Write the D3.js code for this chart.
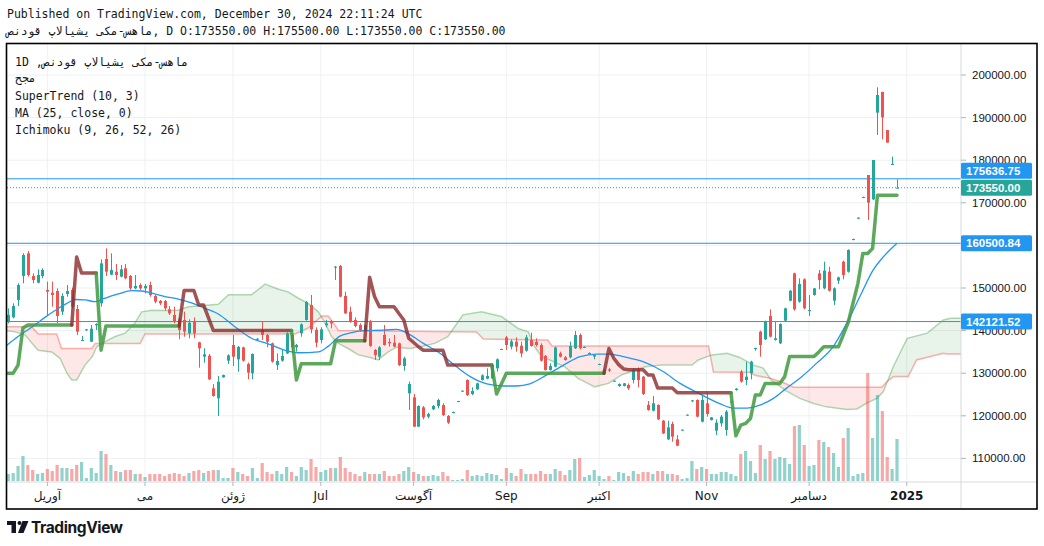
<!DOCTYPE html>
<html><head><meta charset="utf-8">
<script src="https://cdn.jsdelivr.net/npm/d3@7"></script>
<style>
body{margin:0;background:#fff;}
svg{display:block;}
</style></head><body>
<svg id="c" width="1044" height="546"></svg>
<script>
// ---------- DATA ----------
const opens = [142000,143110,147180,152820,158140,152820,151250,152820,149530,148910,
149300,144440,148590,149530,145070,137640,140060,137400,141240,146400,
156810,153130,153830,152660,154620,152820,149920,150700,149920,150700,
148120,146950,146950,144990,143660,142640,142490,139360,142250,137250,
133880,134120,126450,124100,129030,132940,136620,133250,136070,132160,
129970,137950,140140,138970,137010,131920,132940,134660,138970,136070,
139360,142490,146010,140140,137790,141240,142250,154850,155170,148120,
144440,142490,141310,140140,142000,135450,133880,138970,137320,137170,
137010,131690,125270,124330,117450,121990,119800,121520,122300,122530,
119950,120740,123320,125740,128400,125120,126210,128400,128720,128790,
131140,135520,138420,136230,137400,136460,135290,137790,137400,136620,
134040,130750,131530,134660,133720,133720,135840,138970,136000,134590,
133900,132000,130590,130900,128100,127000,127000,127230,128400,130750,
129190,122540,121200,122540,118860,114470,118070,114470,116590,120110,
123400,123710,118620,122930,119010,116510,118230,116660,123240,126050,
130360,128400,129970,135760,139750,137950,143430,137790,137010,142330,
147020,153440,146790,152030,144680,148360,153440,149920,153830,147020,
151720,156180,153830,161340,166350,171200,176530,170810,191160,196010,
187090,179030,173550];
const highs = [145200,146400,151100,158140,158690,153440,154380,154620,151490,151490,
149920,148750,150700,150080,146010,138730,140400,141310,141710,156730,
159310,158140,155630,155400,155630,153050,153050,151100,150940,151490,
148400,147180,147180,145780,145620,143110,144440,142640,143110,137400,
135840,134510,127460,129340,129660,134430,138970,136380,136230,132470,
134660,138200,142100,139200,137170,134660,135450,139590,139360,136850,
141710,146950,148360,140770,140770,142490,142490,155170,155400,149140,
145620,143110,141710,141470,142500,135680,136380,141310,138180,138970,
137170,133880,128010,125120,122460,122300,120740,122530,124020,122930,
120190,121000,123500,125950,128560,126680,127780,129730,131140,132320,
133490,135750,138730,137950,138420,137400,138970,139510,138180,137010,
134270,132320,136230,135060,134040,137400,139910,139360,136300,134900,
134300,132250,130900,131200,128300,127600,127700,127600,131140,131380,
129340,123470,124650,122700,119010,118860,118620,115490,116800,120300,
123700,123870,124650,125430,119700,119170,120190,121360,123500,126500,
130750,132710,132940,136000,139980,142330,144990,142090,141700,145380,
149500,153600,152270,152270,148360,150000,154220,156180,155010,150160,
152660,156420,159080,161600,166600,171450,176530,180050,197110,196090,
187090,180830,175500];
const lows = [141700,142880,145780,151100,152660,151100,151100,152270,143430,145620,
141700,143660,147970,145230,138970,137560,139950,137320,140140,145620,
152820,153050,151880,152500,152040,149530,149690,149530,148750,147970,
146400,146010,144680,143660,141700,137950,138580,138180,138180,131300,
132470,128400,124490,119950,128950,132160,131690,130360,132710,128560,
128560,137800,137790,136070,132470,130750,132710,134510,134820,135060,
138580,142330,139360,136070,137010,140770,140530,151880,147810,143900,
141860,140770,139750,139980,136200,133100,133100,136460,136230,136070,
131690,130590,121360,117450,117450,119170,119410,121360,121750,119950,
118070,120600,123200,125650,124650,124880,126060,128250,128560,128640,
130360,135450,135450,135600,135060,133720,135060,136230,136230,132710,
130590,130600,131380,133720,132940,133490,135680,135600,135900,134500,
133250,131900,129580,130300,128000,126800,126900,126050,127620,126680,
124880,121200,121050,119010,115730,114320,113930,112910,116500,120000,
123200,119640,118470,119800,118900,115490,117450,115340,123100,125900,
127770,127230,128560,135290,133880,137790,138420,137630,136850,142090,
146870,144680,146550,144990,143430,148200,149690,149690,149140,146010,
150940,152030,153600,161200,166200,171100,165960,170660,185920,184900,
184120,179030,173550];
const closes = [143700,145780,150700,157750,153050,151880,153050,154230,149140,148360,
143430,148120,149300,145620,139750,137790,140300,140450,141550,155790,
153830,154230,153050,154380,152270,149920,150470,149920,150470,148360,
146790,146400,145230,144050,142100,140140,139750,141860,139360,135840,
134430,128560,124650,128010,129580,134190,133880,136150,132940,130120,
134510,138110,138970,137400,132710,132860,134040,139360,136070,136620,
141470,146710,140300,137170,140300,141710,141710,155010,147970,144050,
142100,141080,140140,141240,136400,134270,136070,136620,137010,136230,
131920,133490,127460,117450,122300,119640,120420,122300,123710,120190,
118390,120890,123470,125900,124880,125820,127620,129500,129340,131920,
133250,135680,136620,137480,136230,134660,138420,136380,136620,132940,
130750,131690,136070,133880,133100,136380,138970,135840,136150,134740,
134250,132160,130750,130600,128250,127460,127620,126450,130750,128400,
125120,121360,122930,119170,115880,117290,115100,112990,116740,120270,
123630,119800,123710,120420,119640,118390,119800,120970,123390,126370,
128010,129180,132710,135910,136620,142090,138570,138180,141550,145230,
149370,144990,150940,145230,144830,149920,151880,154070,149370,149920,
152500,153050,158920,161500,166510,171360,170030,180050,195310,190060,
184120,179110,173550];
const volumes = [7,8,15,25,16,11,7,8,12,10,16,13,13,12,16,19,3,13,8,30,
27,16,10,9,11,11,7,7,4,7,7,7,5,7,8,7,5,
8,10,11,8,10,11,11,3,3,13,9,7,5,13,3,18,9,7,10,7,14,9,5,14,11,22,14,9,11,13,13,24,13,9,7,5,9,
7,7,7,10,5,5,7,10,14,9,7,5,5,6,5,9,5,1,1,2,11,5,6,5,8,7,6,2,13,8,5,12,7,7,7,10,7,
7,12,10,6,11,22,23,4,6,11,5,2,5,1,9,8,5,10,7,9,9,7,10,10,7,7,6,2,3,20,
12,14,12,7,7,9,9,7,5,27,30,20,8,36,22,30,22,24,23,17,55,56,36,15,16,41,39,34,28,14,
43,53,5,7,8,108,43,86,70,24,12,42];

// Moving average (25): [bar index, value]
const maPoints = [[-0.7,136200],[2.0,138600],[4.8,140800],[7.5,143100],[10.2,145200],[12.0,146400],[13.7,147300],
[15.7,147200],[17.8,146800],[19.8,147600],[22.5,148600],[25.3,149400],[27.3,149300],[29.4,148800],[32.1,148000],
[34.8,147400],[37.2,146600],[40.3,145200],[43.0,143900],[46.4,140900],[49.8,138200],[53.2,136900],[56.6,135400],
[59.4,134800],[63.5,135000],[65.5,136300],[67.9,138700],[70.3,139500],[72.7,140000],[76.8,140100],[79.5,140300],
[82.3,139000],[85.0,137000],[88.4,134700],[91.8,131500],[94.6,129200],[98.0,127500],[101.4,127000],[104.1,127000],
[106.8,127500],[110.3,129600],[113.7,131900],[117.1,133900],[120.5,134500],[123.2,134500],[125.9,133900],
[130.0,132700],[134.1,130400],[137.6,127600],[141.7,125100],[145.8,122800],[148.5,121800],[151.2,121800],
[153.9,122500],[156.7,124100],[159.4,126500],[162.1,128800],[165.5,132300],[168.9,136200],[171.7,141700],
[174.4,148000],[177.1,154200],[179.2,157300],[182,160500.84]];

// SuperTrend (10,3): [bar index, value, direction 1=up/-1=down]
const stPoints = [[-0.3,130000,1],[1,130000,1],[2,131900,1],[3,140600,1],[4,141300,1],[13,141300,1],
[14,157300,-1],[15,153500,-1],[18,153500,-1],
[19,135400,1],[20,141100,1],[35,141100,1],
[36,149400,-1],[38,149400,-1],[39,146000,-1],[40,146000,-1],[41,143000,-1],[42,140000,-1],[58,140000,-1],
[59,128400,1],[60,132200,1],[66,132200,1],[67,137600,1],[73,137600,1],
[74,152500,-1],[75,148000,-1],[76,145600,-1],[79,145600,-1],[80,144000,-1],[81,142500,-1],[82,138200,-1],
[84,136200,-1],[85,135400,-1],[89,135400,-1],[90,131900,-1],[99,131900,-1],
[100,125100,1],[101,127500,1],[102,130000,1],[122,130000,1],
[123,135800,-1],[124,133500,-1],[125,132000,-1],[126,131000,-1],[127,130800,-1],[130,130800,-1],[131,129600,-1],
[132,129600,-1],[133,126500,-1],[136,126500,-1],[137,125400,-1],[148,125400,-1],
[149,115300,1],[150,117800,1],[151,118200,1],[152,119400,1],[153,124900,1],[154,124900,1],[155,127600,1],
[158,127600,1],[159,129200,1],[160,133900,1],[165,133900,1],[166,135000,1],[167,136200,1],[170,136200,1],
[171,139000,1],[172,141900,1],[173,146500,1],[174,151100,1],[175,158100,1],[176,158100,1],[177,159300,1],
[178,171800,1],[182,171800,1]];

// Ichimoku leading spans (shifted 26 bars): [bar index, value]
const spanA = [[-0.7,140000],[1.4,139700],[3.4,139000],[6.1,135400],[8.9,135000],[10.6,133500],[12.0,130000],
[13.0,128400],[14.0,128400],[15.7,131900],[17.2,133900],[18.1,136200],[19.8,137400],[21.9,138600],[23.9,139400],
[25.9,141700],[27.3,144400],[29.4,144800],[32.1,144700],[34.8,144800],[36.9,145600],[38.9,145800],[43.0,146200],
[45.1,148400],[49.8,148400],[52.6,150900],[55.3,149700],[57.3,149100],[59.4,147600],[61.4,146400],[63.5,144400],
[64.9,141700],[66.2,138600],[67.6,137000],[69.6,135800],[71.7,134300],[74.1,133700],[75.7,133100],[77.8,135000],
[79.5,136100],[82.3,135800],[85.0,136400],[87.3,137000],[90.0,138600],[91.4,140900],[93.1,143700],[96.9,144400],
[101.0,143300],[104.4,140500],[106.5,139700],[107.8,136200],[109.2,133900],[110.9,133100],[114.0,131500],
[116.7,128800],[120.1,126800],[122.9,127600],[125.6,129600],[130.4,131500],[133.8,131900],[140.0,131900],
[141.3,133100],[144.1,134300],[147.2,134700],[149.8,133700],[152.6,131900],[154.6,131200],[156.2,128400],
[159.4,125800],[162.1,124100],[164.9,122900],[167.6,122100],[171.7,121500],[173.8,121600],[175.8,123000],
[177.9,124100],[179.2,125700],[181.3,131700],[184.1,138200],[186.8,139000],[188.2,139400],[191.5,142500],
[192.9,142900],[196.0,142900]];
const spanB = [[-0.7,140900],[4.8,140900],[6.1,139200],[9.9,139200],[10.9,135800],[17.1,135800],[17.8,137000],
[27.0,137000],[28.0,139200],[58.7,139200],[61.4,140600],[62.8,142000],[64.2,143400],[65.5,143400],[66.9,141300],
[67.6,140000],[95.9,139700],[97.3,138000],[110.5,137800],[111.3,136400],[143.4,136400],[144.4,130300],
[151.9,130200],[152.9,129500],[156.0,128800],[158.7,127800],[160.8,126700],[178.9,126700],[179.9,128000],
[181.3,129200],[184.3,129200],[186.0,133100],[191.5,134700],[192.2,134500],[196.0,134500]];

const priceTicks = [200000,190000,180000,170000,160000,150000,140000,130000,120000,110000];
const monthIdx = [8,28,46,64,83,102,121,143,164,184];
const monthLbl = ["آوریل","می","ژوئن","Jul","آگوست","Sep","اکتبر","Nov","دسامبر","2025"];
const priceLines = [175636.75, 160500.84, 142121.52];
const lastPrice = 173550.00;
const tickerName = "ماهس-مکی یشیالاپ قودنص";
const ohlcText = ", D O:173550.00 H:175500.00 L:173550.00 C:173550.00";
const legendRows = ["مجح","SuperTrend (10, 3)","MA (25, close, 0)","Ichimoku (9, 26, 52, 26)"];

// ---------- DRAW ----------
const GREEN="#26a69a", RED="#ef5350", BLUE="#2196f3", TXT="#131722";
const P = {l:7, r:961, t:44, b:482};
const svg = d3.select('#c');
const x = d3.scaleLinear().domain([0,182]).range([8.3,897]);
const y = d3.scaleLinear().domain([110000,200000]).range([458.4,75]);
const yv = d3.scaleLinear().domain([0,110]).range([481,371]);
const n = Math.min(opens.length,highs.length,lows.length,closes.length,volumes.length);
const bars = d3.range(n).map(i=>({i,o:opens[i],h:highs[i],l:lows[i],c:closes[i],v:volumes[i]}));

const defs = svg.append('defs');
defs.append('clipPath').attr('id','plotClip').append('rect')
  .attr('x',P.l).attr('y',P.t).attr('width',P.r-P.l).attr('height',P.b-P.t);
defs.append('clipPath').attr('id','belowA').append('path')
  .attr('d', d3.area().x(d=>x(d[0])).y0(P.b+50).y1(d=>y(d[1]))(spanA));
defs.append('clipPath').attr('id','aboveA').append('path')
  .attr('d', d3.area().x(d=>x(d[0])).y0(P.t-50).y1(d=>y(d[1]))(spanA));

// grid
const grid = svg.append('g');
priceTicks.forEach(p=>grid.append('line').attr('x1',P.l).attr('x2',P.r).attr('y1',y(p)).attr('y2',y(p))
  .attr('stroke','#eef0f3').attr('stroke-width',1));
monthIdx.forEach(m=>grid.append('line').attr('x1',x(m)).attr('x2',x(m)).attr('y1',P.t).attr('y2',P.b)
  .attr('stroke','#eef0f3').attr('stroke-width',1));

const plot = svg.append('g').attr('clip-path','url(#plotClip)');

// Ichimoku cloud fills
plot.append('g').attr('clip-path','url(#belowA)').append('path')
  .attr('d', d3.area().x(d=>x(d[0])).y0(P.t-50).y1(d=>y(d[1]))(spanB))
  .attr('fill','rgba(67,160,71,0.12)');
plot.append('g').attr('clip-path','url(#aboveA)').append('path')
  .attr('d', d3.area().x(d=>x(d[0])).y0(P.b+50).y1(d=>y(d[1]))(spanB))
  .attr('fill','rgba(244,67,54,0.12)');
const ln = d3.line().x(d=>x(d[0])).y(d=>y(d[1]));
plot.append('path').attr('d',ln(spanA)).attr('fill','none').attr('stroke','rgba(67,160,71,0.4)').attr('stroke-width',1.5);
plot.append('path').attr('d',ln(spanB)).attr('fill','none').attr('stroke','rgba(244,67,54,0.4)').attr('stroke-width',1.5);

// volume
plot.append('g').selectAll('rect').data(bars).join('rect')
  .attr('x',d=>x(d.i)-1.6).attr('width',3.2)
  .attr('y',d=>yv(d.v)).attr('height',d=>yv(0)-yv(d.v))
  .attr('fill',d=>d.c>=d.o?'rgba(38,166,154,0.5)':'rgba(239,83,80,0.5)');

// price lines
priceLines.forEach(p=>plot.append('line').attr('x1',P.l).attr('x2',P.r).attr('y1',y(p)).attr('y2',y(p))
  .attr('stroke',BLUE).attr('stroke-width',1));
plot.append('line').attr('x1',P.l).attr('x2',P.r).attr('y1',y(lastPrice)).attr('y2',y(lastPrice))
  .attr('stroke',GREEN).attr('stroke-width',1).attr('stroke-dasharray','1,2');

// candles
const cg = plot.append('g');
cg.selectAll('line').data(bars).join('line')
  .attr('x1',d=>Math.round(x(d.i))+0.5).attr('x2',d=>Math.round(x(d.i))+0.5)
  .attr('y1',d=>y(d.h)).attr('y2',d=>y(d.l))
  .attr('stroke',d=>d.c>=d.o?GREEN:RED).attr('stroke-width',1);
cg.selectAll('rect').data(bars).join('rect')
  .attr('x',d=>Math.round(x(d.i))-1).attr('width',3)
  .attr('y',d=>y(Math.max(d.o,d.c)))
  .attr('height',d=>Math.max(1,Math.abs(y(d.o)-y(d.c))))
  .attr('fill',d=>d.c>=d.o?GREEN:RED);

// MA
plot.append('path').attr('d',d3.line().x(d=>x(d[0])).y(d=>y(d[1])).curve(d3.curveMonotoneX)(maPoints))
  .attr('fill','none').attr('stroke',BLUE).attr('stroke-width',1.3);

// SuperTrend runs
const runs=[]; let cur=null;
stPoints.forEach((p,k)=>{
  if(!cur || cur.dir!==p[2]){ cur={dir:p[2],pts: k>0?[stPoints[k-1]]:[]}; runs.push(cur); }
  cur.pts.push(p);
});
runs.forEach(r=>plot.append('path').attr('d',ln(r.pts)).attr('fill','none')
  .attr('stroke',r.dir>0?'#3f9a3f':'#8b2a2a').attr('stroke-opacity',r.dir>0?0.85:0.8)
  .attr('stroke-width',3.5).attr('stroke-linejoin','round').attr('stroke-linecap','round'));

// axes separators
svg.append('line').attr('x1',P.r).attr('x2',P.r).attr('y1',P.t).attr('y2',509).attr('stroke','#d6d9df');
svg.append('line').attr('x1',P.l).attr('x2',1037).attr('y1',P.b).attr('y2',P.b).attr('stroke','#d6d9df');

// price axis
const ax = svg.append('g').attr('font-family','"Liberation Sans", Arial, sans-serif').attr('font-size','11.5px');
const boxes = priceLines.map(p=>({p,col:BLUE})).concat([{p:lastPrice,col:GREEN}])
  .map(b=>({...b,cy:y(b.p)})).sort((a,b)=>b.cy-a.cy);
for(let k=1;k<boxes.length;k++){ if(boxes[k-1].cy-boxes[k].cy<17) boxes[k].cy=boxes[k-1].cy-17; }
priceTicks.forEach(p=>{
  ax.append('line').attr('x1',P.r).attr('x2',P.r+5).attr('y1',y(p)).attr('y2',y(p)).attr('stroke','#b2b5be');
  const hidden = boxes.some(b=>Math.abs(b.cy-y(p))<6);
  if(!hidden) ax.append('text').attr('x',972).attr('y',y(p)+4).attr('fill',TXT).text(d3.format('.2f')(p));
});
boxes.forEach(b=>{
  ax.append('rect').attr('x',P.r).attr('y',b.cy-8).attr('width',71).attr('height',16).attr('rx',1.5).attr('fill',b.col);
  ax.append('text').attr('x',966).attr('y',b.cy+4).attr('fill','#fff').attr('font-weight','bold').text(d3.format('.2f')(b.p));
});

// time axis
const tx = svg.append('g').attr('font-family','"DejaVu Sans", "Liberation Sans", sans-serif').attr('font-size','12px');
monthIdx.forEach((m,k)=>{
  tx.append('line').attr('x1',x(m)).attr('x2',x(m)).attr('y1',P.b).attr('y2',P.b+4).attr('stroke','#b2b5be');
  tx.append('text').attr('x',x(m)).attr('y',500).attr('text-anchor','middle').attr('fill',TXT)
    .attr('font-weight',monthLbl[k]==='2025'?'bold':'normal').text(monthLbl[k]);
});

// frame
svg.append('rect').attr('x',6.5).attr('y',43.5).attr('width',1030.5).attr('height',465.5)
  .attr('fill','none').attr('stroke','#000').attr('stroke-width',1.6);

// header
const mono = '"DejaVu Sans Mono", "Liberation Mono", monospace';
const hd = svg.append('g').attr('font-family',mono).attr('font-size','11.5px').attr('fill',TXT);
hd.append('text').attr('x',7).attr('y',18).text('Published on TradingView.com, December 30, 2024 22:11:24 UTC');
hd.append('text').attr('x',7).attr('y',35).text(tickerName + ohlcText);

// legend
const lg = svg.append('g').attr('font-family',mono).attr('font-size','11.5px').attr('fill',TXT);
lg.append('text').attr('x',15).attr('y',66).text('1D ,' + tickerName);
const legY=[82,100,117,134];
legendRows.forEach((t,k)=>lg.append('text').attr('x',15).attr('y',legY[k]).text(t));

// TradingView logo
const logo = svg.append('g').attr('fill',TXT);
logo.append('path').attr('d','M7 521 H16 V533 H11.5 V525 H7 Z');
logo.append('circle').attr('cx',19.5).attr('cy',523).attr('r',2);
logo.append('path').attr('d','M22.5 521 H28.5 L23.5 533 H18 Z');
logo.append('text').attr('x',31).attr('y',532.5).attr('font-family','Inter, "Liberation Sans", sans-serif')
  .attr('font-size','15.5px').attr('font-weight','700').attr('letter-spacing','-0.4').text('TradingView');
</script>
</body></html>
